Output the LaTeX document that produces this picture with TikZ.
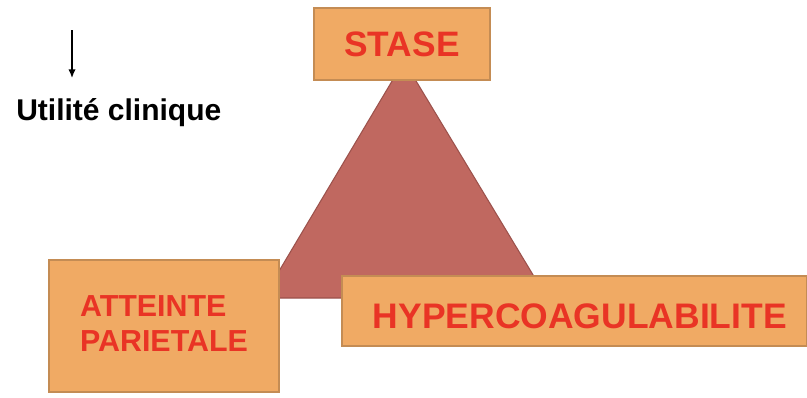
\documentclass[tikz,border=0pt]{standalone}
\usepackage{fontspec}
\setmainfont{Liberation Sans}
\usetikzlibrary{arrows.meta}

\definecolor{boxfill}{RGB}{240,170,100}
\definecolor{boxline}{RGB}{196,140,84}
\definecolor{trifill}{RGB}{192,104,96}
\definecolor{triline}{RGB}{156,82,76}
\definecolor{labelred}{RGB}{233,52,37}

\tikzset{
  factorbox/.style={draw=boxline, fill=boxfill, line width=1pt, rectangle,
    text=labelred, font=\bfseries, inner sep=0pt},
}

\begin{document}
\begin{tikzpicture}[x=0.75pt,y=0.75pt,yscale=-1,xscale=1]
\useasboundingbox (0,0) rectangle (807,397);

%Shape: Triangle [id:tri]
\draw [draw=triline, fill=trifill, line width=0.8pt] (404,61) -- (263,298) -- (547,298) -- cycle ;

%Shape: Rectangle [id:stase]
\node (stase) [factorbox, minimum width=132pt, minimum height=54pt, font=\fontsize{26.5}{30}\selectfont\bfseries] at (402,44) {STASE};
%Shape: Rectangle [id:paroi]
\node (paroi) [factorbox, minimum width=172.5pt, minimum height=99pt, align=left, font=\fontsize{22.8}{26.3}\selectfont\bfseries] at (164,326) {\raisebox{2pt}[\height][\depth]{ATTEINTE}\\\raisebox{2pt}[\height][\depth]{PARIETALE}};
%Shape: Rectangle [id:coag]
\node (coag) [factorbox, minimum width=348.75pt, minimum height=52.5pt, font=\fontsize{26.6}{30}\selectfont\bfseries] at (574.5,311) {\hspace*{8pt}\raisebox{-4pt}[\height][\depth]{HYPERCOAGULABILITE}};

% Arrow
\coordinate (arrtop) at (72,30);
\coordinate (arrbot) at (72,78);
\draw [line width=1pt, -{Latex[length=6.5pt,width=5.5pt]}] (arrtop) -- (arrbot);

% Text Node
\node (utilite) [anchor=base west, inner sep=0pt, font=\fontsize{22.5}{26}\selectfont\bfseries] at (16,120) {Utilité clinique};

\end{tikzpicture}
\end{document}
